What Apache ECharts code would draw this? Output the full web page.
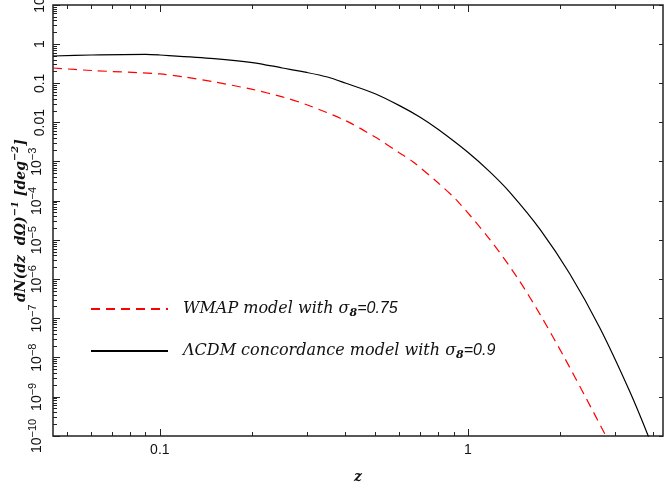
<!DOCTYPE html>
<html><head><meta charset="utf-8">
<script src="https://cdn.jsdelivr.net/npm/echarts@6/dist/echarts.min.js"></script>
<style>html,body{margin:0;padding:0;background:#fff}#c{width:665px;height:489px}</style>
</head><body><div id="c"></div>
<script>
// ΛCDM concordance model (sigma8 = 0.9)
const zLCDM = [0.045, 0.06, 0.09, 0.1, 0.15, 0.2, 0.25, 0.3, 0.35, 0.4, 0.5, 0.6, 0.7, 0.8, 1.0, 1.179, 1.369, 1.713, 2.144, 2.683, 3.357, 3.90, 4.36];
const nLCDM = [0.50, 0.53, 0.55, 0.53, 0.43, 0.34, 0.247, 0.19, 0.145, 0.102, 0.0543, 0.027, 0.0137, 0.00675, 0.00175, 5.52e-4, 1.66e-4, 1.91e-5, 1.36e-6, 5.69e-8, 1.34e-9, 7.8e-11, 7.6e-12];
// WMAP model (sigma8 = 0.75)
const zWMAP = [0.045, 0.06, 0.1, 0.12, 0.15, 0.2, 0.25, 0.3, 0.4, 0.5, 0.6, 0.663, 0.8, 0.924, 1.183, 1.459, 1.746, 2.058, 2.407, 2.806, 3.26];
const nWMAP = [0.247, 0.213, 0.174, 0.146, 0.109, 0.070, 0.045, 0.0284, 0.0113, 0.00425, 0.00168, 1e-3, 2.9e-4, 1e-4, 1e-5, 1e-6, 1e-7, 1e-8, 1e-9, 1e-10, 1e-11];

const xMajorTicks = [0.1, 1];
const xMinorTicks = [0.05, 0.06, 0.07, 0.08, 0.09, 0.2, 0.3, 0.4, 0.5, 0.6, 0.7, 0.8, 0.9, 2, 3, 4];
const yDecadeExponents = [-10, -9, -8, -7, -6, -5, -4, -3, -2, -1, 0, 1];
const yMinorMultipliers = [2, 3, 4, 5, 6, 7, 8, 9];
const xRange = [0.045, 4.3];
const yRange = [1e-10, 10];

const yMajorTicks = yDecadeExponents.map(k => Math.pow(10, k));
const yMinorTicks = [];
yDecadeExponents.forEach(k => { if (k < 1) yMinorMultipliers.forEach(m => yMinorTicks.push(m * Math.pow(10, k))); });

const tickFont = "'Liberation Sans Narrow', 'Liberation Sans', Arial, sans-serif";
const serifIt = "'DejaVu Serif', serif";
const frame = '#222';

function yLabel(v) {
  const k = Math.round(Math.log10(v));
  if (k === 1) return '10';
  if (k === 0) return '1';
  if (k === -1) return '0.1';
  if (k === -2) return '0.01';
  return '10{sup|\u2212' + (-k) + '}';
}
function xLabel(v) { return Math.abs(v - 0.1) < 1e-9 ? '0.1' : '1'; }

const baseX = { type: 'log', min: xRange[0], max: xRange[1], splitLine: { show: false }, axisLine: { show: false } };
const baseY = { type: 'log', min: yRange[0], max: yRange[1], splitLine: { show: false }, axisLine: { show: false } };

const legendNames = {
  WMAP: '{t|WMAP model with \u03c3}{sub|8}{n|=0.75}',
  LCDM: '{t|\u039bCDM concordance model with \u03c3}{sub|8}{n|=0.9}'
};

const chart = echarts.init(document.getElementById('c'), null, { renderer: 'canvas' });
chart.setOption({
  animation: false,
  backgroundColor: '#fff',
  grid: { left: 53, right: 2, top: 5, bottom: 53, containLabel: false, outerBoundsMode: 'none', show: true, borderColor: frame, borderWidth: 1.5, backgroundColor: 'transparent' },
  xAxis: [
    Object.assign({}, baseX, {
      position: 'bottom',
      name: 'z', nameLocation: 'middle', nameGap: 34,
      nameTextStyle: { fontFamily: serifIt, fontStyle: 'italic', fontWeight: 'bold', fontSize: 14, color: '#111' },
      axisTick: { show: true, inside: true, length: 7, customValues: xMajorTicks, lineStyle: { color: frame, width: 1 } },
      axisLabel: { show: true, customValues: xMajorTicks, formatter: xLabel, margin: 7, fontFamily: tickFont, fontSize: 14, color: '#111' }
    }),
    Object.assign({}, baseX, {
      position: 'bottom',
      axisTick: { show: true, inside: true, length: 4, customValues: xMinorTicks, lineStyle: { color: frame, width: 1 } },
      axisLabel: { show: false }
    }),
    Object.assign({}, baseX, {
      position: 'top',
      axisTick: { show: true, inside: true, length: 7, customValues: xMajorTicks, lineStyle: { color: frame, width: 1 } },
      axisLabel: { show: false }
    }),
    Object.assign({}, baseX, {
      position: 'top',
      axisTick: { show: true, inside: true, length: 4, customValues: xMinorTicks, lineStyle: { color: frame, width: 1 } },
      axisLabel: { show: false }
    })
  ],
  yAxis: [
    Object.assign({}, baseY, {
      position: 'left',
      name: '{i|dN(dz  d\u03a9)}{sup|\u22121}{i| [deg}{sup|\u22122}{i|]}',
      nameLocation: 'middle', nameGap: 25, nameRotate: 90, nameMoveOverlap: false,
      nameTextStyle: {
        color: '#111',
        rich: {
          i: { fontFamily: serifIt, fontStyle: 'italic', fontWeight: 'bold', fontSize: 14, lineHeight: 18, verticalAlign: 'bottom', color: '#111' },
          sup: { fontFamily: serifIt, fontStyle: 'italic', fontWeight: 'bold', fontSize: 10, lineHeight: 18, verticalAlign: 'top', color: '#111' }
        }
      },
      axisTick: { show: true, inside: true, length: 7, customValues: yMajorTicks, lineStyle: { color: frame, width: 1 } },
      axisLabel: {
        show: true, customValues: yMajorTicks, formatter: yLabel, rotate: 90, margin: 6,
        fontFamily: tickFont, fontSize: 14, color: '#111',
        rich: {
          sup: { fontFamily: tickFont, fontSize: 11, color: '#111', verticalAlign: 'top', lineHeight: 20 }
        }
      }
    }),
    Object.assign({}, baseY, {
      position: 'left',
      axisTick: { show: true, inside: true, length: 4, customValues: yMinorTicks, lineStyle: { color: frame, width: 1 } },
      axisLabel: { show: false }
    }),
    Object.assign({}, baseY, {
      position: 'right',
      axisTick: { show: true, inside: true, length: 4, customValues: yMajorTicks, lineStyle: { color: frame, width: 1 } },
      axisLabel: { show: false }
    })
  ],
  legend: {
    orient: 'vertical', left: 85, top: 296, padding: 5, itemWidth: 77, itemHeight: 14, itemGap: 24,
    data: ['WMAP', 'LCDM'],
    itemStyle: { opacity: 0 },
    formatter: n => legendNames[n],
    textStyle: {
      padding: [0, 0, 0, 10],
      rich: {
        t: { fontFamily: serifIt, fontStyle: 'italic', fontSize: 16, color: '#111', lineHeight: 20, verticalAlign: 'middle' },
        sub: { fontFamily: serifIt, fontStyle: 'italic', fontWeight: 'bold', fontSize: 11, color: '#111', lineHeight: 20, verticalAlign: 'bottom' },
        n: { fontFamily: "'Liberation Sans', Arial, sans-serif", fontStyle: 'italic', fontSize: 16, color: '#111', lineHeight: 20, verticalAlign: 'middle' }
      }
    }
  },
  series: [
    {
      name: 'WMAP', type: 'line', xAxisIndex: 0, yAxisIndex: 0, symbol: 'none', smooth: 0.3,
      lineStyle: { color: '#ff0000', width: 1.2, type: [9, 6] },
      itemStyle: { color: '#ff0000' },
      data: zWMAP.map((z, i) => [z, nWMAP[i]])
    },
    {
      name: 'LCDM', type: 'line', xAxisIndex: 0, yAxisIndex: 0, symbol: 'none', smooth: 0.3,
      lineStyle: { color: '#000000', width: 1.2 },
      itemStyle: { color: '#000000' },
      data: zLCDM.map((z, i) => [z, nLCDM[i]])
    }
  ]
});
</script></body></html>
